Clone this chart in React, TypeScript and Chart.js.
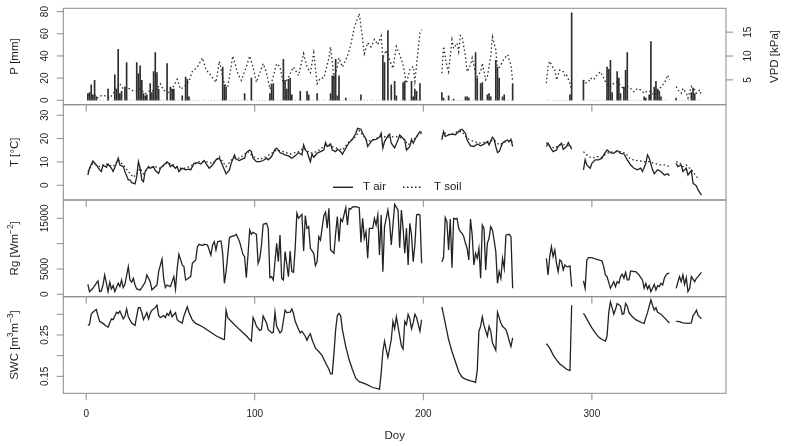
import React, { useEffect, useRef } from 'react';
import { Chart, registerables } from 'chart.js';
Chart.register(...registerables);

// ---------------- data (day of year, value) ----------------
const precip: [number, number][] = [
  [1,6],[2,7],[3,14],[4,5],[5,18],[6,3],[13,10],[17,23],[18,10],[19,46],[20,6],[21,8],[23,12],[24,34],
  [30,34],[31,24],[32,31],[33,18],[34,6],[35,4],[36,5],[38,15],[39,7],[40,26],[41,43],[42,25],[43,10],
  [48,33],[50,12],[51,10],[52,10],[57,4],[59,21],[60,19],[61,3],[81,30],[82,14],[83,12],[94,6],[98,20],
  [109,6],[110,14],[111,15],[117,37],[118,18],[119,10],[120,19],[121,20],[122,5],[127,8],[131,8],[132,5],
  [137,6],[145,6],[146,22],[147,22],[148,37],[149,4],[150,22],[154,2],[163,5],[176,39],[177,34],[179,63],
  [181,14],[183,17],[184,4],[188,16],[189,17],[193,17],[194,3],[195,10],[196,8],[198,15],
  [211,7],[212,2],[215,4],[218,1],[225,3],[226,3],[227,2],[231,43],[232,20],[234,15],[235,16],[238,5],
  [239,6],[240,3],[243,36],[244,30],[245,20],[247,3],[248,5],[253,15],[287,5],[288,79],
  [295,18],[309,30],[310,28],[311,36],[312,7],[315,26],[316,20],[317,6],[319,12],[320,27],[321,43],
  [331,3],[332,2],[334,5],[335,53],[337,12],[338,17],[339,10],[340,8],[341,3],[350,2],[359,7],[360,11],[361,6],
];

const precipZero: [number, number | null][] = [
  [1,0],[199,0],[205,null],[211,0],[253,0],[260,null],[273,0],[288,0],[291,null],[295,0],[346,0],[348,null],[350,0],[365,0],
];

const vpd: [number, number | null][] = [
  [1,1.9],[3,1.4],[5,1.9],[7,1.2],[9,1.7],[11,1.7],[14,1.2],[17,2.6],[20,4.2],[22,3.1],[24,3.5],[27,2.8],[30,2.6],
  [32,3.1],[35,2.1],[38,2.8],[41,2.6],[44,4.2],[46,2.8],[49,2.4],[51,3.1],[54,5.1],[56,3.1],[58,3.5],[61,4.7],
  [63,6.8],[66,7.7],[69,9.6],[71,7.2],[74,5.9],[77,4.5],[79,8.9],[82,4.0],[84,3.5],[87,10.0],[90,6.3],[92,4.9],
  [95,7.7],[97,10.0],[99,7.7],[101,4.5],[105,8.4],[107,6.5],[109,3.1],[113,8.4],[115,7.7],[117,4.2],[119,4.9],
  [123,7.7],[126,5.9],[129,10.5],[131,7.7],[133,6.5],[135,10.7],[137,4.2],[139,5.4],[141,5.4],[144,9.6],[145,11.9],
  [147,5.4],[149,7.7],[150,9.6],[152,7.7],[155,10.0],[157,12.4],[159,15.9],[162,18.9],[164,13.5],[165,10.5],
  [167,12.8],[169,11.9],[171,13.5],[173,12.4],[175,14.2],[176,9.6],[178,11.2],[180,9.2],[182,7.4],[184,12],
  [186,10.3],[188,8.1],[189,6.2],[190,4.3],[192,7.1],[194,7.8],[195,4.7],[196,8],[198,15],[199,15.5],
  [205,null],
  [211,6.4],[212,12],[214,7.8],[215,6.7],[217,13.4],[218,11.6],[220,12.7],[221,10.9],[222,14.3],[223,14.1],
  [225,9.9],[226,6.7],[228,8.1],[229,9.6],[231,6.4],[232,5.7],[234,6.7],[235,8.5],[237,5],[238,5.7],[240,9.9],
  [241,14],[243,11.3],[244,7.1],[246,8.1],[247,8.9],[249,9.9],[250,10.3],[252,8.1],[253,4.7],
  [260,null],
  [273,4.3],[274,7.8],[275,8.9],[277,7.5],[278,7.1],[279,5],[281,7.1],[283,6.7],[284,5.7],[285,6],[287,4.3],[288,2.9],
  [291,null],
  [295,5],[296,4.3],[298,4.6],[299,5.4],[301,5],[303,6],[305,6.7],[307,5.4],[309,3.9],[311,3.6],[313,4.3],
  [315,4.6],[317,3.9],[319,2.9],[321,3.6],[323,3.2],[325,2.5],[327,3.2],[329,2.9],[331,2.2],[333,2.7],[335,2.5],
  [337,1.8],[339,2.2],[341,3.6],[343,4.3],[345,6],[346,5],
  [348,null],
  [350,3.6],[351,2.9],[353,2.2],[354,3.2],[356,2.2],[357,1.2],[359,3.6],[361,2.9],[362,2.2],[364,2.9],[365,1.8],
];

const tAir: [number, number | null][] = [
  [1,4.4],[2,7.3],[4,10.4],[6,8.7],[8,6.6],[9,5.9],[10,8.7],[12,7.7],[13,9.1],[15,7.3],[16,5.9],[18,9.4],[19,11.6],
  [20,8.7],[22,8],[23,5.9],[25,2.3],[26,2.3],[27,1.1],[28,0.9],[29,0.6],[30,3.7],[31,10.1],[32,7.3],[33,2.3],
  [34,1.6],[35,5.9],[37,8],[38,7.3],[40,8],[41,6.3],[43,5.1],[44,7.3],[46,8.7],[48,10],[49,9.4],[50,8],[51,8.7],
  [53,7.3],[54,8],[55,5.9],[57,7.3],[59,6.6],[61,6.9],[62,6.6],[64,9.4],[66,9.7],[68,9.1],[70,10.6],[71,9.4],
  [73,7.3],[75,8.7],[77,10.9],[79,11.6],[80,10.1],[82,6.6],[83,4.9],[85,6.6],[86,9.4],[88,13],[89,11.1],[91,10.6],
  [92,11.1],[94,11.6],[95,14],[97,15.1],[98,14.4],[99,11.6],[101,10.1],[103,10.1],[105,10.6],[107,11.6],[108,10.9],
  [110,12.3],[112,15.4],[113,15.9],[115,14],[116,13.7],[118,13],[120,12.6],[122,11.6],[124,12.6],[126,14],[128,13],
  [129,17.3],[130,15.1],[131,14.4],[133,10.1],[134,13.4],[135,12],[137,13.7],[139,14.4],[141,15.1],[142,18.3],
  [143,16.6],[145,17.7],[146,15.1],[148,14.4],[149,15.4],[151,14.4],[152,13.3],[154,15.9],[156,18.3],[158,19.7],
  [160,22.3],[161,24.4],[163,24],[164,22.3],[166,19.7],[167,16.6],[169,18.7],[170,19.4],[172,19.7],[174,20.6],
  [175,22.3],[176,15.9],[177,18.7],[179,21.1],[180,21.9],[181,18],[183,16],[185,19.5],[186,21.5],[188,20],
  [189,19.4],[190,15.1],[192,16.6],[193,19.7],[194,18],[196,20.9],[198,23],[199,22.6],
  [205,null],
  [211,19.4],[212,23],[213,20.9],[215,21.6],[217,21.9],[219,21.6],[222,23.7],[223,24],[225,22.3],[226,19.4],
  [228,16.9],[230,16.6],[232,17.7],[234,16.9],[236,17.6],[238,18.7],[239,17.3],[241,20.6],[242,19.7],[243,16.6],
  [244,14],[245,14.4],[247,18],[248,18.7],[250,19.4],[251,18.7],[252,19.7],[253,16.6],
  [260,null],
  [273,16.6],[274,18],[276,15.4],[277,14.4],[279,15.1],[280,16.6],[282,18],[283,15.4],[285,16.6],[286,18.3],[288,15.4],
  [291,null],
  [295,6.6],[296,10.9],[297,8.7],[299,7.3],[300,9.4],[302,10.9],[304,10.9],[306,11.6],[307,13],[309,15.1],[311,14],
  [313,13.7],[315,14.9],[317,13.7],[319,13.4],[321,10.9],[323,8.7],[325,7.3],[327,6.6],[329,7.3],[330,5.9],
  [332,9.4],[333,13],[334,11.6],[336,6.6],[337,4.9],[339,6.6],[341,5.9],[343,4.4],[345,4.9],[346,4],
  [348,null],
  [350,9.4],[351,8],[353,8.7],[354,5.9],[356,7.3],[357,4.4],[359,6.3],[360,0.9],[362,-0.3],[363,-2],[365,-4.2],
];

const tSoil: [number, number | null][] = [
  [1,5.9],[4,9.4],[8,8],[12,9],[16,8],[19,10.9],[22,8.7],[25,5.9],[28,3.4],[30,4.9],[32,7.3],[34,4.9],[37,7.6],
  [41,8],[44,7.3],[48,9.7],[51,9],[55,7.3],[59,7.3],[63,8.7],[67,10.1],[71,10.1],[75,9.4],[79,12.3],[83,8],
  [87,11.6],[91,11.6],[96,14.4],[99,12.3],[103,11.1],[107,12.3],[113,15.1],[117,14.4],[121,13.4],[126,14.4],
  [129,15.9],[133,13.7],[137,14.4],[142,17.3],[147,16.3],[152,15.1],[156,18.7],[160,20.9],[162,23.4],[164,21.6],
  [167,18.7],[171,19.7],[175,20.9],[179,20.6],[184,20.9],[188,20.1],[191,17.3],[193,18.7],[196,20.9],[199,22.3],
  [205,null],
  [211,20.9],[213,22.3],[216,21.6],[220,23],[223,23],[226,20.1],[230,18.7],[234,18],[238,18.7],[242,19.4],
  [245,17.3],[249,18.7],[253,18.7],
  [260,null],
  [273,18.3],[275,16.6],[278,15.9],[281,17.3],[284,17.3],[288,16.6],
  [291,null],
  [295,14.4],[297,13],[300,11.6],[303,12.3],[306,12],[309,13.7],[313,14.4],[317,14.4],[320,13.7],[323,11.1],
  [327,10.6],[331,10.1],[334,10.1],[337,9.4],[340,8.7],[343,8.7],[346,8],
  [348,null],
  [350,10.1],[352,9.7],[354,8],[356,8.7],[358,7.3],[360,5.9],[362,3.7],[364,2.6],
];

const rg: [number, number | null][] = [
  [1,1970],[2,530],[4,1180],[6,2170],[7,2630],[8,530],[9,660],[10,1840],[11,3820],[13,530],[14,2370],[15,1050],
  [16,1710],[17,530],[19,2170],[20,1510],[21,2830],[22,1320],[23,1970],[25,5460],[26,2830],[27,2370],[28,3160],
  [29,1840],[30,1050],[32,855],[33,1320],[35,2370],[36,3820],[38,2500],[39,855],[40,1180],[42,1840],[43,4470],
  [45,6970],[46,3030],[47,1320],[48,1840],[50,1510],[51,2500],[52,3490],[53,1050],[54,5130],[55,7890],[57,5790],
  [58,5460],[59,2830],[60,3030],[62,3490],[63,6120],[65,6780],[66,9410],[67,9870],[69,9610],[70,9870],[72,9740],
  [74,7760],[75,9740],[76,10390],[77,8750],[78,10390],[80,10530],[81,8090],[82,2170],[83,4470],[84,7760],
  [85,11180],[86,11380],[88,11580],[89,11840],[90,11180],[91,10390],[93,7890],[94,7430],[95,3290],[96,7760],
  [97,12700],[98,11840],[99,12240],[101,11840],[102,6120],[103,7100],[104,9740],[105,13820],[107,14010],
  [108,13030],[109,3290],[110,3490],[111,2830],[113,10070],[114,6450],[115,11710],[116,3160],[117,2830],
  [118,8420],[120,3490],[121,8550],[122,4470],[123,4340],[124,9080],[125,15990],[126,15000],[128,15790],
  [129,8550],[130,15530],[131,13030],[132,13360],[133,9080],[135,8090],[136,5660],[137,6450],[138,11380],
  [139,10720],[141,15530],[142,16190],[143,13030],[144,16970],[145,8750],[147,8090],[148,12040],[149,15330],
  [150,10390],[151,14870],[152,14340],[154,17100],[155,13680],[156,16970],[157,16840],[158,17240],[160,17300],
  [162,17100],[163,10260],[164,15000],[165,11050],[166,12370],[167,7100],[168,13030],[170,13030],[171,15000],
  [172,13680],[173,15660],[174,7760],[175,15660],[176,4470],[177,13360],[179,16640],[180,14340],[181,9740],
  [182,13680],[183,17760],[185,16640],[186,9210],[187,16640],[188,13030],[189,8090],[190,13030],[191,5790],
  [192,14010],[193,11710],[194,6450],[195,9740],[196,15660],[197,15790],[198,15660],[199,6120],
  [205,null],
  [211,6450],[212,7240],[213,15130],[214,14340],[215,8750],[216,14870],[217,5260],[218,15000],[219,14870],
  [220,15000],[221,13030],[222,12370],[223,12040],[224,11380],[225,10070],[226,9080],[227,6780],[228,14870],
  [229,11710],[230,5790],[231,8090],[232,7100],[233,9080],[234,3160],[235,13680],[236,13030],[237,4800],
  [238,10070],[239,11050],[240,13360],[241,12700],[242,10720],[243,8420],[244,2170],[245,4470],[246,3160],
  [247,7100],[248,5130],[249,11710],[251,11840],[252,11380],[253,1180],
  [260,null],
  [273,7100],[274,3820],[275,7430],[276,9410],[277,7430],[278,8750],[279,6120],[280,4470],[281,6780],[282,6450],
  [283,4800],[284,5790],[285,5460],[286,5460],[287,5600],[288,1510],
  [291,null],
  [295,2630],[296,1180],[297,6780],[298,7240],[300,7240],[302,6970],[304,6780],[306,6580],[307,5460],[308,3820],
  [309,3490],[311,1180],[312,1840],[313,2500],[314,1510],[315,2500],[316,2170],[317,3490],[318,3950],[319,3160],
  [320,4340],[321,2830],[322,2830],[323,4610],[325,4470],[326,4470],[328,3820],[329,3290],[330,2830],[331,1180],
  [332,2170],[333,1050],[334,1710],[335,530],[336,1180],[337,1970],[338,860],[339,1710],[340,1510],[341,2170],
  [342,1840],[343,3160],[344,3820],[345,4150],[346,4150],
  [348,null],
  [350,1180],[351,2370],[352,3490],[353,2500],[354,3820],[355,1970],[356,3290],[357,530],[358,1180],[359,3490],
  [361,2500],[362,3160],[363,3490],[364,3950],[365,4340],
];

const swc: [number, number | null][] = [
  [1,.273],[2,.275],[3,.300],[4,.305],[6,.312],[7,.296],[8,.283],[10,.278],[12,.271],[13,.269],[15,.289],[16,.287],
  [18,.305],[19,.302],[20,.308],[22,.289],[23,.295],[24,.313],[25,.294],[27,.279],[29,.273],[30,.296],[31,.316],
  [32,.316],[33,.304],[34,.287],[36,.304],[37,.289],[38,.302],[39,.310],[41,.316],[42,.322],[43,.297],[44,.292],
  [46,.297],[47,.292],[48,.302],[49,.297],[50,.308],[51,.294],[53,.304],[54,.287],[55,.283],[57,.279],[58,.296],
  [60,.318],[61,.304],[63,.286],[65,.278],[69,.270],[73,.259],[77,.248],[81,.240],[82,.239],[83,.310],[84,.292],
  [87,.279],[91,.263],[95,.248],[97,.239],[98,.235],[99,.292],[100,.283],[101,.271],[103,.261],[104,.263],
  [105,.296],[107,.279],[108,.263],[110,.255],[111,.256],[112,.305],[113,.271],[115,.255],[116,.259],[118,.310],
  [119,.304],[121,.305],[122,.313],[123,.302],[124,.283],[126,.263],[127,.255],[128,.259],[130,.247],[131,.237],
  [132,.247],[133,.253],[134,.239],[136,.218],[138,.210],[140,.200],[142,.183],[144,.167],[145,.156],[146,.156],
  [147,.206],[148,.263],[149,.297],[150,.302],[151,.296],[152,.263],[154,.222],[156,.190],[158,.166],[160,.145],
  [162,.137],[166,.131],[170,.123],[174,.119],[175,.157],[176,.210],[177,.235],[178,.214],[179,.196],[181,.239],
  [182,.283],[183,.265],[184,.294],[186,.247],[187,.224],[188,.216],[189,.283],[190,.275],[191,.300],[192,.289],
  [193,.265],[194,.279],[195,.300],[196,.292],[198,.259],[199,.287],
  [205,null],
  [211,.318],[213,.279],[215,.239],[217,.210],[219,.186],[221,.161],[223,.148],[225,.143],[228,.139],[230,.137],
  [231,.135],[232,.165],[233,.259],[234,.271],[235,.294],[236,.273],[238,.247],[239,.271],[240,.259],[241,.231],
  [243,.213],[244,.305],[245,.292],[246,.279],[247,.271],[249,.263],[250,.251],[251,.235],[252,.222],[253,.243],
  [260,null],
  [273,.229],[275,.218],[277,.202],[279,.190],[281,.180],[283,.174],[285,.167],[287,.164],[288,.322],
  [291,null],
  [295,.302],[296,.296],[298,.281],[300,.267],[302,.255],[304,.245],[306,.239],[308,.235],[309,.247],[310,.304],
  [311,.330],[312,.316],[313,.300],[314,.312],[315,.326],[317,.320],[318,.300],[319,.302],[320,.326],[321,.320],
  [322,.304],[324,.294],[326,.287],[328,.283],[330,.279],[331,.278],[332,.292],[333,.304],[335,.335],[336,.322],
  [337,.310],[338,.316],[339,.305],[341,.300],[343,.292],[345,.283],[346,.279],
  [348,null],
  [350,.283],[352,.282],[354,.279],[357,.278],[359,.279],[360,.297],[361,.302],[362,.310],[363,.297],[365,.289],
];

// ---------------- axis ticks ----------------
const xTicks = [0, 100, 200, 300];
const xTickLabels = ['0', '100', '200', '300'];
const pTicks = [0, 20, 40, 60, 80];
const pTickLabels = ['0', '20', '40', '60', '80'];
const vpdTicks = [5, 10, 15];
const vpdTickLabels = ['5', '10', '15'];
const tTicks = [0, 10, 20, 30];
const tTickLabels = ['0', '10', '20', '30'];
const rgTicks = [0, 5000, 10000, 15000];
const rgTickLabels = ['0', '5000', '', '15000'];
const swcTicks = [0.15, 0.2, 0.25, 0.3];
const swcTickLabels = ['0.15', '', '0.25', ''];

// ---------------- layout / style ----------------
const W = 787, H = 446;
const PLOT_LEFT = 63.3, PLOT_RIGHT = 726;
const PANEL_EDGES = [8.3, 104.7, 200, 296.7, 393.3];
const X_MIN = -13.56, X_MAX = 379.56;
const FONT = '"Liberation Sans", Arial, Helvetica, sans-serif';
const TEXT = '#1c1c1c';
const AXIS = '#8a8a8a';
const LINE = '#222222';
const TICK_FS = 10;
const TITLE_FS = 11.5;

type Seg = { text: string; sup?: boolean };
interface AxisCfg {
  left: { id: string; ticks: number[]; labels: string[]; title: Seg[] };
  right?: { id: string; ticks: number[]; labels: string[]; title: Seg[] };
  xLabels: boolean;
  legend?: boolean;
}

const toXY = (pairs: [number, number | null][]) => pairs.map(([x, y]) => ({ x, y }));

function drawRich(ctx: CanvasRenderingContext2D, segs: Seg[], x: number, y: number, rotate: boolean, size: number) {
  ctx.save();
  ctx.translate(x, y);
  if (rotate) ctx.rotate(-Math.PI / 2);
  const supSize = size * 0.72;
  let total = 0;
  const widths: number[] = [];
  for (const s of segs) {
    ctx.font = `${s.sup ? supSize : size}px ${FONT}`;
    const w = ctx.measureText(s.text).width;
    widths.push(w);
    total += w;
  }
  let cx = -total / 2;
  ctx.textAlign = 'left';
  ctx.textBaseline = 'middle';
  ctx.fillStyle = TEXT;
  segs.forEach((s, i) => {
    ctx.font = `${s.sup ? supSize : size}px ${FONT}`;
    ctx.fillText(s.text, cx, s.sup ? -size * 0.4 : 0);
    cx += widths[i];
  });
  ctx.restore();
}

function makeAxesPlugin(cfg: AxisCfg) {
  return {
    id: 'rStyleAxes',
    afterDraw(chart: any) {
      const ctx: CanvasRenderingContext2D = chart.ctx;
      const a = chart.chartArea;
      ctx.save();
      ctx.strokeStyle = AXIS;
      ctx.lineWidth = 1;
      ctx.strokeRect(a.left, a.top, a.right - a.left, a.bottom - a.top);
      const xs = chart.scales.x;
      ctx.beginPath();
      xTicks.forEach((t) => {
        const px = xs.getPixelForValue(t);
        ctx.moveTo(px, a.bottom);
        ctx.lineTo(px, a.bottom + 7);
      });
      ctx.stroke();
      if (cfg.xLabels) {
        ctx.fillStyle = TEXT;
        ctx.font = `${TICK_FS}px ${FONT}`;
        ctx.textAlign = 'center';
        ctx.textBaseline = 'middle';
        xTicks.forEach((t, i) => ctx.fillText(xTickLabels[i], xs.getPixelForValue(t), 414.3));
        drawRich(ctx, [{ text: 'Doy' }], (a.left + a.right) / 2, 435.7, false, TITLE_FS);
      }
      const ls = chart.scales[cfg.left.id];
      ctx.beginPath();
      cfg.left.ticks.forEach((t) => {
        const py = ls.getPixelForValue(t);
        ctx.moveTo(a.left - 6.6, py);
        ctx.lineTo(a.left, py);
      });
      ctx.stroke();
      cfg.left.ticks.forEach((t, i) => {
        if (cfg.left.labels[i]) drawRich(ctx, [{ text: cfg.left.labels[i] }], 45, ls.getPixelForValue(t), true, TICK_FS);
      });
      drawRich(ctx, cfg.left.title, 15, (a.top + a.bottom) / 2, true, TITLE_FS);
      if (cfg.right) {
        const rs = chart.scales[cfg.right.id];
        ctx.beginPath();
        cfg.right.ticks.forEach((t) => {
          const py = rs.getPixelForValue(t);
          ctx.moveTo(a.right, py);
          ctx.lineTo(a.right + 7, py);
        });
        ctx.stroke();
        cfg.right.ticks.forEach((t, i) => {
          drawRich(ctx, [{ text: cfg.right!.labels[i] }], 748.3, rs.getPixelForValue(t), true, TICK_FS);
        });
        drawRich(ctx, cfg.right.title, 775, (a.top + a.bottom) / 2, true, TITLE_FS);
      }
      if (cfg.legend) {
        const ly = 187.3;
        ctx.strokeStyle = LINE;
        ctx.lineWidth = 1.4;
        ctx.setLineDash([]);
        ctx.beginPath();
        ctx.moveTo(333, ly);
        ctx.lineTo(353, ly);
        ctx.stroke();
        ctx.setLineDash([1.5, 2.5]);
        ctx.beginPath();
        ctx.moveTo(403, ly);
        ctx.lineTo(423, ly);
        ctx.stroke();
        ctx.setLineDash([]);
        ctx.fillStyle = TEXT;
        ctx.font = `${TITLE_FS}px ${FONT}`;
        ctx.textAlign = 'left';
        ctx.textBaseline = 'middle';
        ctx.fillText('T air', 363, ly);
        ctx.fillText('T soil', 434, ly);
      }
      ctx.restore();
    },
  };
}

function baseOptions(panel: number, yScales: Record<string, any>) {
  const scales: Record<string, any> = {
    x: { type: 'linear', min: X_MIN, max: X_MAX, display: false, offset: false },
  };
  Object.keys(yScales).forEach((k) => {
    scales[k] = { type: 'linear', display: false, ...yScales[k] };
  });
  return {
    responsive: false,
    animation: false as const,
    events: [] as any[],
    layout: {
      padding: {
        left: PLOT_LEFT,
        right: W - PLOT_RIGHT,
        top: PANEL_EDGES[panel],
        bottom: H - PANEL_EDGES[panel + 1],
      },
    },
    plugins: { legend: { display: false }, tooltip: { enabled: false }, title: { display: false } },
    scales,
  };
}

const solid = (data: any, yAxisID: string) => ({
  type: 'line' as const,
  data,
  yAxisID,
  borderColor: LINE,
  borderWidth: 1.3,
  pointRadius: 0,
  tension: 0,
  spanGaps: false,
  fill: false,
});
const dotted = (data: any, yAxisID: string, color = '#2a2a2a') => ({
  ...solid(data, yAxisID),
  borderColor: color,
  borderDash: [1.5, 2.5],
});

export default function App() {
  const r0 = useRef<HTMLCanvasElement>(null);
  const r1 = useRef<HTMLCanvasElement>(null);
  const r2 = useRef<HTMLCanvasElement>(null);
  const r3 = useRef<HTMLCanvasElement>(null);

  useEffect(() => {
    const charts: Chart[] = [];
    charts.push(
      new Chart(r0.current!, {
        type: 'line',
        data: {
          datasets: [
            { ...dotted(toXY(precipZero), 'yP', '#b8b8b8'), borderWidth: 1, borderDash: [1, 2] } as any,
            {
              type: 'bar',
              data: toXY(precip),
              yAxisID: 'yP',
              backgroundColor: '#2e2e2e',
              borderWidth: 0,
              barThickness: 1,
            } as any,
            dotted(toXY(vpd), 'yV') as any,
          ],
        },
        options: baseOptions(0, { yP: { min: -4, max: 83 }, yV: { min: -0.2, max: 20 } }) as any,
        plugins: [
          makeAxesPlugin({
            left: { id: 'yP', ticks: pTicks, labels: pTickLabels, title: [{ text: 'P [mm]' }] },
            right: { id: 'yV', ticks: vpdTicks, labels: vpdTickLabels, title: [{ text: 'VPD [kPa]' }] },
            xLabels: false,
          }),
        ],
      })
    );
    charts.push(
      new Chart(r1.current!, {
        type: 'line',
        data: {
          datasets: [dotted(toXY(tSoil), 'yT') as any, solid(toXY(tAir), 'yT') as any],
        },
        options: baseOptions(1, { yT: { min: -6.3, max: 34.5 } }) as any,
        plugins: [
          makeAxesPlugin({
            left: { id: 'yT', ticks: tTicks, labels: tTickLabels, title: [{ text: 'T [°C]' }] },
            xLabels: false,
            legend: true,
          }),
        ],
      })
    );
    charts.push(
      new Chart(r2.current!, {
        type: 'line',
        data: { datasets: [solid(toXY(rg), 'yR') as any] },
        options: baseOptions(2, { yR: { min: -474, max: 18617 } }) as any,
        plugins: [
          makeAxesPlugin({
            left: {
              id: 'yR',
              ticks: rgTicks,
              labels: rgTickLabels,
              title: [{ text: 'Rg [Wm' }, { text: '−2', sup: true }, { text: ']' }],
            },
            xLabels: false,
          }),
        ],
      })
    );
    charts.push(
      new Chart(r3.current!, {
        type: 'line',
        data: { datasets: [solid(toXY(swc), 'yS') as any] },
        options: baseOptions(3, { yS: { min: 0.109, max: 0.3425 } }) as any,
        plugins: [
          makeAxesPlugin({
            left: {
              id: 'yS',
              ticks: swcTicks,
              labels: swcTickLabels,
              title: [
                { text: 'SWC [m' },
                { text: '3', sup: true },
                { text: 'm' },
                { text: '−3', sup: true },
                { text: ']' },
              ],
            },
            xLabels: true,
          }),
        ],
      })
    );
    return () => charts.forEach((c) => c.destroy());
  }, []);

  const cs: React.CSSProperties = { position: 'absolute', left: 0, top: 0, width: W, height: H };
  return (
    <div style={{ position: 'absolute', left: 0, top: 0, width: W, height: H, background: '#ffffff' }}>
      <canvas ref={r0} width={W} height={H} style={cs} />
      <canvas ref={r1} width={W} height={H} style={cs} />
      <canvas ref={r2} width={W} height={H} style={cs} />
      <canvas ref={r3} width={W} height={H} style={cs} />
    </div>
  );
}
